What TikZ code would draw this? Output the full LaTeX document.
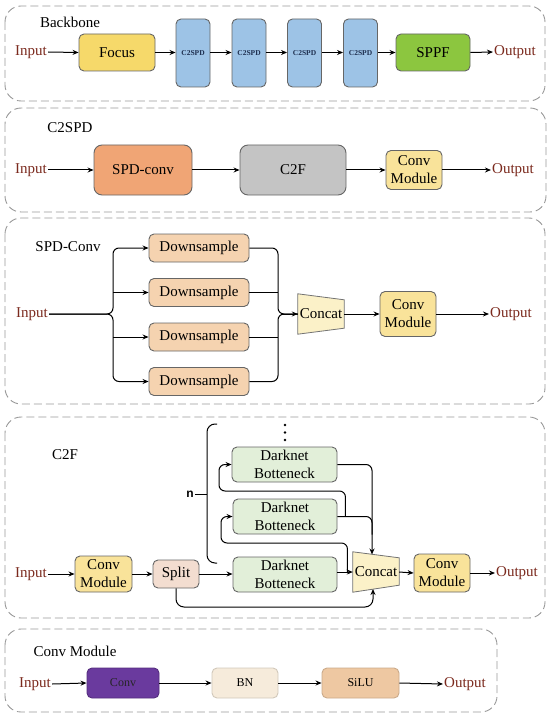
\documentclass[tikz,border=0pt]{standalone}
\usepackage{fontspec}
\setmainfont{Liberation Serif}
\newfontfamily\nfont{Liberation Sans}
\usetikzlibrary{arrows.meta,calc}
\pgfdeclarelayer{bg}\pgfsetlayers{bg,main}
\newcommand{\myfs}{\rmfamily\fontsize{15}{18}\selectfont}
\newcommand{\smfs}{\rmfamily\fontsize{12}{14}\selectfont}
\definecolor{inred}{HTML}{7B2A1E}
\definecolor{focusY}{HTML}{F6D96A}
\definecolor{c2b}{HTML}{9DC3E6}
\definecolor{sppfG}{HTML}{8CC63F}
\definecolor{spdO}{HTML}{F0A575}
\definecolor{c2fG}{HTML}{C4C4C4}
\definecolor{cmY}{HTML}{F9E39A}
\definecolor{dsO}{HTML}{F5D3B0}
\definecolor{ccY}{HTML}{FBF1C8}
\definecolor{splitP}{HTML}{F3DDD0}
\definecolor{dbG}{HTML}{E2EFD9}
\definecolor{convP}{HTML}{6A3A9E}
\definecolor{bnB}{HTML}{F6EBDB}
\definecolor{siluO}{HTML}{EEC8A2}
\definecolor{c2txt}{HTML}{1F3050}
\begin{document}
\begin{tikzpicture}[x=1pt,y=-1pt,
  panel/.style={draw=black!40, dash pattern=on 8pt off 4pt, line width=0.9pt, rounded corners=16pt},
  box/.style={draw=black!60, line width=0.9pt, rounded corners=5pt, inner sep=0pt, align=center, font=\myfs},
  io/.style={text=inred, font=\myfs, inner sep=1pt},
  lbl/.style={font=\myfs, inner sep=1pt},
  arr/.style={-{Stealth[length=6pt,width=5pt]}, line width=1pt},
  ln/.style={line width=1pt},
  trap/.style={inner sep=0pt, font=\myfs, minimum width=46pt, minimum height=40pt}
]
\useasboundingbox (0,0) rectangle (550,714);

% ---------------- Panel 1: Backbone
\draw[panel] (5,6) rectangle (545,101);
\node[lbl] (lb1) at (70,22) {Backbone};
\node[io] (in1) at (31,52) {Input};
\node[box, fill=focusY, minimum width=76pt, minimum height=37pt] (focus) at (117,52.5) {Focus};
\foreach \i/\x in {1/193,2/249,3/304.5,4/360.5}{
  \node[box, fill=c2b, minimum width=34pt, minimum height=68pt, font=\rmfamily\fontsize{7.5}{9}\selectfont\bfseries, text=c2txt] (cs\i) at (\x,53) {C2SPD};
}
\node[box, fill=sppfG, minimum width=74pt, minimum height=37pt] (sppf) at (433,52.5) {SPPF};
\node[io] (out1) at (515,52) {Output};
\draw[arr] (in1.east) -- (focus.west);
\draw[arr] (focus.east) -- (focus.east -| cs1.west);
\draw[arr] (cs1.east |- focus.east) -- (cs2.west |- focus.east);
\draw[arr] (cs2.east |- focus.east) -- (cs3.west |- focus.east);
\draw[arr] (cs3.east |- focus.east) -- (cs4.west |- focus.east);
\draw[arr] (cs4.east |- focus.east) -- (sppf.west);
\draw[arr] (sppf.east) -- (out1.west);

% ---------------- Panel 2: C2SPD
\draw[panel] (5,108) rectangle (546,212);
\node[lbl] (lb2) at (70,128) {C2SPD};
\node[io] (in2) at (31,170) {Input};
\node[box, fill=spdO, minimum width=98pt, minimum height=50pt, rounded corners=8pt] (spd) at (143,170) {SPD-conv};
\node[box, fill=c2fG, minimum width=106pt, minimum height=50pt, rounded corners=8pt] (c2f) at (293,170) {C2F};
\node[box, fill=cmY, minimum width=56pt, minimum height=39pt] (cm2) at (414,170) {Conv\\Module};
\node[io] (out2) at (513,170) {Output};
\draw[arr] (in2.east) -- (spd.west);
\draw[arr] (spd.east) -- (c2f.west);
\draw[arr] (c2f.east) -- (cm2.west);
\draw[arr] (cm2.east) -- (out2.west);

% ---------------- Panel 3: SPD-Conv
\draw[panel] (5,218) rectangle (545,404);
\node[lbl] (lb3) at (68,247) {SPD-Conv};
\node[io] (in3) at (32,314) {Input};
\foreach \i/\y in {1/248,2/292.5,3/337,4/381.5}{
  \node[box, fill=dsO, minimum width=100pt, minimum height=28pt] (ds\i) at (199,\y) {Downsample};
}
\node[trap] (cc3) at (321,314) {Concat};
\begin{pgfonlayer}{bg}
\draw[fill=ccY, draw=black!55, line width=0.8pt] (cc3.north west) -- ($(cc3.north east)+(0,6)$) -- ($(cc3.south east)+(0,-6)$) -- (cc3.south west) -- cycle;
\end{pgfonlayer}
\coordinate (b3l) at (113,314);
\coordinate (b3r) at (278,314);
\draw[arr, rounded corners=6pt] (in3.east) -- (b3l) |- (ds1.west);
\draw[arr, rounded corners=6pt] (in3.east) -- (b3l) |- (ds4.west);
\draw[arr] (b3l |- ds2.west) -- (ds2.west);
\draw[arr] (b3l |- ds3.west) -- (ds3.west);
\draw[ln, rounded corners=6pt] (ds1.east) -| (b3r) -- (cc3.west);
\draw[ln, rounded corners=6pt] (ds4.east) -| (b3r) -- (cc3.west);
\draw[ln] (ds2.east) -- (b3r |- ds2.east);
\draw[ln] (ds3.east) -- (b3r |- ds3.east);
\draw[arr] ($(b3r)+(4,0)$) -- (cc3.west);
\node[box, fill=cmY, minimum width=56pt, minimum height=45pt] (cm3) at (408,314) {Conv\\Module};
\node[io] (out3) at (511,314) {Output};
\draw[arr] (cc3.east) -- (cm3.west);
\draw[arr] (cm3.east) -- (out3.west);

% ---------------- Panel 4: C2F
\draw[panel] (5,417) rectangle (545,618);
\node[lbl] (lb4) at (65,455) {C2F};
\node[io] (in4) at (31,574) {Input};
\node[box, fill=cmY, minimum width=57pt, minimum height=36pt] (cm4) at (103.5,574) {Conv\\Module};
\node[box, fill=splitP, minimum width=46pt, minimum height=28pt] (split) at (176,574) {Split};
\node[box, fill=dbG, minimum width=105pt, minimum height=35pt] (db1) at (284.5,464.5) {Darknet\\Botteneck};
\node[box, fill=dbG, minimum width=104pt, minimum height=35pt] (db2) at (285,516.5) {Darknet\\Botteneck};
\node[box, fill=dbG, minimum width=104pt, minimum height=35pt] (db3) at (285,574.5) {Darknet\\Botteneck};
\node[trap] (cc4) at (376,572) {Concat};
\begin{pgfonlayer}{bg}
\draw[fill=ccY, draw=black!55, line width=0.8pt] (cc4.north west) -- ($(cc4.north east)+(0,6)$) -- ($(cc4.south east)+(0,-7)$) -- (cc4.south west) -- cycle;
\end{pgfonlayer}
\node[box, fill=cmY, minimum width=56pt, minimum height=38pt] (cm4b) at (442,573) {Conv\\Module};
\node[io] (out4) at (517,573) {Output};
% brace n
\draw[ln, rounded corners=8pt] (217,424) -| (207,563) -- (217,563);
\coordinate (nt) at (207,494);
\node[font=\nfont\bfseries\fontsize{12}{14}\selectfont, inner sep=1pt] (nlab) at (190,494) {n};
\draw[ln] (nlab.east) -- (nt);
\foreach \yy in {425,432.5,440}{ \fill (285,\yy) circle (1.4pt); }
% connections
\draw[arr] (in4.east) -- (cm4.west);
\draw[arr] (cm4.east) -- (split.west);
\draw[arr] (split.east) -- (split.east -| db3.west);
\draw[arr] (db3.east |- cc4.west) -- (cc4.west);
\coordinate (cct) at (372,554.5);
\coordinate (ccb) at (373,589);
\draw[arr, rounded corners=6pt] (db1.east) -| (cct);
\draw[ln, rounded corners=6pt] (db2.east) -| ($(cct)+(0,-20)$);
\draw[arr, rounded corners=6pt] ($(db2.east)+(8,0)$) |- (219,491) |- (db1.west);
\draw[arr, rounded corners=6pt] ($(db3.east)+(10,-2.5)$) |- (221,543) |- (db2.west);
\draw[arr, rounded corners=8pt] (split.south) |- (330,607) -| (ccb);
\draw[arr] (cc4.east) -- (cm4b.west);
\draw[arr] (cm4b.east) -- (out4.west);

% ---------------- Panel 5: Conv Module
\draw[panel] (5,629) rectangle (497,712);
\node[lbl] (lb5) at (75,651) {Conv Module};
\node[io] (in5) at (35,684) {Input};
\node[box, fill=convP, draw=convP!80!black, minimum width=72pt, minimum height=30pt, font=\smfs, text=black!85] (conv5) at (123,683) {Conv};
\node[box, fill=bnB, draw=bnB!85!black, minimum width=66pt, minimum height=30pt, font=\smfs] (bn5) at (245,683) {BN};
\node[box, fill=siluO, draw=siluO!85!black, minimum width=77pt, minimum height=30pt, font=\smfs] (silu5) at (360.5,683) {SiLU};
\node[io] (out5) at (465,684) {Output};
\draw[arr] (in5.east) -- (conv5.west);
\draw[arr] (conv5.east) -- (bn5.west);
\draw[arr] (bn5.east) -- (silu5.west);
\draw[arr] (silu5.east) -- (out5.west);
\end{tikzpicture}
\end{document}
